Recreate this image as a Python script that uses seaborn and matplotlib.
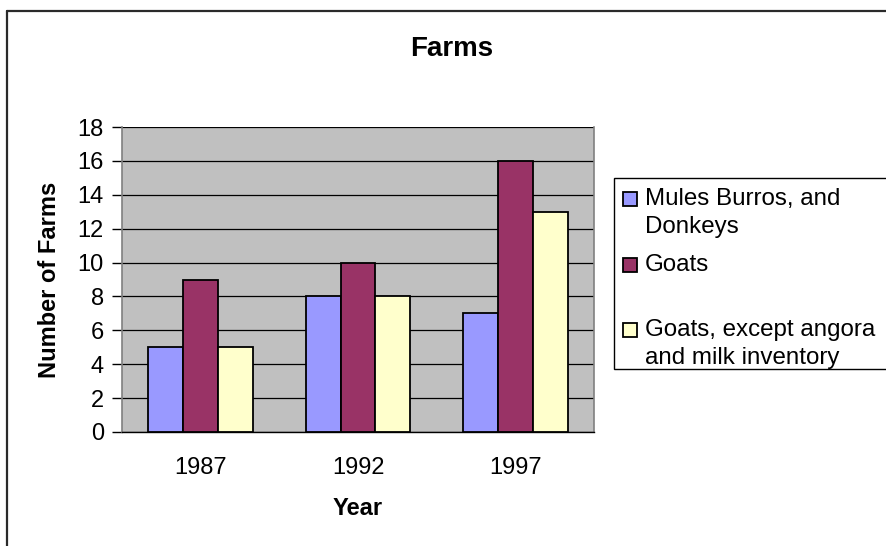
import matplotlib
matplotlib.use("Agg")
import matplotlib.pyplot as plt
from matplotlib.lines import Line2D
from matplotlib.patches import Rectangle
import seaborn as sns
import pandas as pd

years = ["1987", "1992", "1997"]
series = ["Mules Burros, and\nDonkeys", "Goats", "Goats, except angora\nand milk inventory"]
mules = [5, 8, 7]
goats = [9, 10, 16]
goats_except = [5, 8, 13]
colors = ["#9999FF", "#993366", "#FFFFCC"]
yticks = [0, 2, 4, 6, 8, 10, 12, 14, 16, 18]

rows = []
for name, vals in zip(series, [mules, goats, goats_except]):
    for y, v in zip(years, vals):
        rows.append({"Year": y, "Farms": v, "Series": name})
df = pd.DataFrame(rows)

sns.set_style("white")
plt.rcParams["font.family"] = ["Liberation Sans", "DejaVu Sans"]
plt.rcParams["text.color"] = "black"
plt.rcParams["axes.labelcolor"] = "black"
plt.rcParams["xtick.color"] = "black"
plt.rcParams["ytick.color"] = "black"

W, H = 886, 546
fig = plt.figure(figsize=(W / 100, H / 100), dpi=100)
ax = fig.add_axes([122 / W, 1 - 432 / H, (594 - 122) / W, (432 - 127) / H])
ax.set_facecolor("#C0C0C0")

sns.barplot(data=df, x="Year", y="Farms", hue="Series", hue_order=series,
            order=years, palette=colors, width=0.667, edgecolor="black",
            linewidth=1.3, saturation=1, ax=ax, legend=False, zorder=3)

ax.set_xlim(-0.5, 2.5)
ax.set_ylim(0, 18)
ax.set_yticks(yticks)
ax.set_yticklabels([str(t) for t in yticks], fontsize=17, color="black")
ax.yaxis.grid(True, color="black", linewidth=0.9, zorder=0)
ax.set_axisbelow(True)

# category ticks between groups
ax.set_xticks([-0.5, 0.5, 1.5, 2.5])
ax.set_xticklabels([])
ax.set_xticks([0, 1, 2], minor=True)
ax.set_xticklabels(years, minor=True, fontsize=17, color="black")
ax.tick_params(axis="x", which="minor", length=0, pad=18)
ax.tick_params(axis="x", which="major", length=7, width=1, color="black", direction="out")
ax.tick_params(axis="y", length=7, width=1, color="black", direction="out", pad=6, left=True)

for side in ["left", "right", "top"]:
    ax.spines[side].set_color("#808080")
    ax.spines[side].set_linewidth(1.2)
ax.spines["top"].set_visible(False)
ax.spines["bottom"].set_color("black")
ax.spines["bottom"].set_linewidth(1.0)

ax.set_xlabel("Year", fontsize=17, fontweight="bold", labelpad=13, color="black")
ax.set_ylabel("Number of Farms", fontsize=17, fontweight="bold", labelpad=12, color="black")

fig.text(452 / W, 1 - 49 / H, "Farms", fontsize=20, fontweight="bold",
         ha="center", va="center", color="black")

# outer chart frame (top and left visible)
fig.add_artist(Line2D([7 / W, 7 / W], [0, 1 - 11 / H], color="#2a2a2a", lw=1.6))
fig.add_artist(Line2D([7 / W, 1], [1 - 11 / H, 1 - 11 / H], color="#2a2a2a", lw=1.6))

# legend box
lx0, ly0, ly1 = 614, 178, 369
fig.add_artist(Rectangle((lx0 / W, 1 - ly1 / H), (W + 5 - lx0) / W, (ly1 - ly0) / H,
                         transform=fig.transFigure, facecolor="white",
                         edgecolor="black", lw=1.0))
entry_lines = [[("Mules Burros, and", 199), ("Donkeys", 227)],
               [("Goats", 265)],
               [("Goats, except angora", 330), ("and milk inventory", 358)]]
for col, lines in zip(colors, entry_lines):
    cy = lines[0][1]
    fig.add_artist(Rectangle((623 / W, 1 - (cy + 7) / H), 14 / W, 14 / H,
                             transform=fig.transFigure, facecolor=col,
                             edgecolor="black", lw=1.3))
    for txt, y in lines:
        fig.text(645 / W, 1 - y / H, txt, fontsize=17.4, ha="left", va="center",
                 color="black")

fig.savefig("out.png", dpi=100)
